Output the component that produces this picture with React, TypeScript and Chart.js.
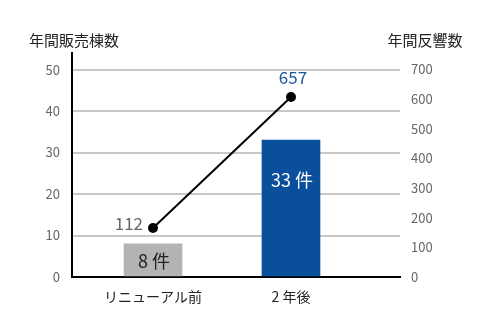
import React, { useEffect, useRef } from 'react';
import { Chart, registerables } from 'chart.js';

Chart.register(...registerables);

const categories = ['リニューアル前', '2 年後'];
const salesCounts = [8, 33];
const responseCounts = [112, 657];
const leftTickValues = [0, 10, 20, 30, 40, 50];
const rightTickValues = [0, 100, 200, 300, 400, 500, 600, 700];
const leftTitle = '年間販売棟数';
const rightTitle = '年間反響数';
const unitLabel = '件';
const barColors = ['#b3b3b3', '#0a4f9c'];
const barLabelColors = ['#222222', '#ffffff'];

const FONT = '"Noto Sans CJK JP", "Noto Sans", sans-serif';

const labelPlugin = {
  id: 'customLabels',
  afterDatasetsDraw(chart: any) {
    const ctx = chart.ctx;
    const area = chart.chartArea;
    ctx.save();
    // axis titles
    ctx.fillStyle = '#222';
    ctx.font = `15px ${FONT}`;
    ctx.textAlign = 'center';
    ctx.textBaseline = 'middle';
    ctx.fillText(leftTitle, area.left + 2, area.top - 13);
    ctx.fillText(rightTitle, area.right + 25, area.top - 13);

    // bar labels
    const barMeta = chart.getDatasetMeta(0);
    barMeta.data.forEach((bar: any, i: number) => {
      const h = bar.base - bar.y;
      const y = bar.y + Math.min(40, h / 2 + 1.5);
      ctx.fillStyle = barLabelColors[i];
      ctx.font = `18px ${FONT}`;
      ctx.textAlign = 'center';
      ctx.textBaseline = 'middle';
      ctx.fillText(`${salesCounts[i]} ${unitLabel}`, bar.x + 1, y);
    });

    // line labels
    const lineMeta = chart.getDatasetMeta(1);
    const p0 = lineMeta.data[0];
    const p1 = lineMeta.data[1];
    ctx.font = `17px ${FONT}`;
    ctx.textBaseline = 'middle';
    ctx.fillStyle = '#666';
    ctx.textAlign = 'right';
    ctx.fillText(String(responseCounts[0]), p0.x - 10, p0.y - 4);
    ctx.fillStyle = '#1a56a0';
    ctx.textAlign = 'center';
    ctx.fillText(String(responseCounts[1]), p1.x + 2, p1.y - 19);
    ctx.restore();
  },
};

export default function App() {
  const ref = useRef<HTMLCanvasElement>(null);
  useEffect(() => {
    if (!ref.current) return;
    const chart = new Chart(ref.current, {
      type: 'bar',
      data: {
        datasets: [
          {
            type: 'bar',
            data: salesCounts.map((v, i) => ({ x: i, y: v })),
            backgroundColor: barColors,
            barThickness: 58,
            xAxisID: 'x',
            yAxisID: 'y',
            order: 2,
          } as any,
          {
            type: 'line',
            data: responseCounts.map((v, i) => ({ x: i, y: v })),
            borderColor: '#000',
            borderWidth: 2,
            pointRadius: 5,
            pointBackgroundColor: '#000',
            pointBorderWidth: 0,
            xAxisID: 'x',
            yAxisID: 'yLine',
            order: 1,
          } as any,
        ],
      },
      options: {
        responsive: false,
        animation: false,
        layout: { padding: { top: 53, left: 0, right: 0, bottom: 0 } },
        plugins: {
          legend: { display: false },
          tooltip: { enabled: false },
        },
        scales: {
          x: {
            type: 'linear',
            offset: false,
            min: -0.587,
            max: 1.79,
            afterBuildTicks: (s: any) => {
              s.ticks = categories.map((_, i) => ({ value: i }));
            },
            afterFit: (s: any) => {
              s.height = 56;
            },
            ticks: {
              callback: (v: any) => categories[v as number] ?? '',
              color: '#222',
              font: { size: 14, family: FONT },
              padding: 11,
              autoSkip: false,
              maxRotation: 0,
            },
            grid: { display: false, drawTicks: false, offset: false },
            border: { color: '#000', width: 2 },
          },
          y: {
            position: 'left',
            min: 0,
            max: 54,
            afterBuildTicks: (s: any) => {
              s.ticks = leftTickValues.map((v) => ({ value: v }));
            },
            afterFit: (s: any) => {
              s.width = 72;
            },
            ticks: {
              color: '#666',
              font: { size: 13, family: FONT },
              padding: 12,
            },
            grid: { color: '#c8c8c8', lineWidth: 2, drawTicks: false },
            border: { color: '#000', width: 2 },
          },
          y2: {
            position: 'right',
            min: 0,
            max: 755,
            afterBuildTicks: (s: any) => {
              s.ticks = rightTickValues.map((v) => ({ value: v }));
            },
            afterFit: (s: any) => {
              s.width = 96;
            },
            ticks: {
              color: '#666',
              font: { size: 13, family: FONT },
              padding: 11,
            },
            grid: { display: false, drawTicks: false },
            border: { display: false },
          },
          yLine: {
            display: false,
            min: -92,
            max: 840,
          },
        },
      } as any,
      plugins: [labelPlugin],
    });
    return () => chart.destroy();
  }, []);
  return (
    <div style={{ position: 'fixed', left: 0, top: 0, width: 496, height: 333, background: '#fff' }}>
      <canvas ref={ref} width={496} height={333} style={{ display: 'block' }} />
    </div>
  );
}
